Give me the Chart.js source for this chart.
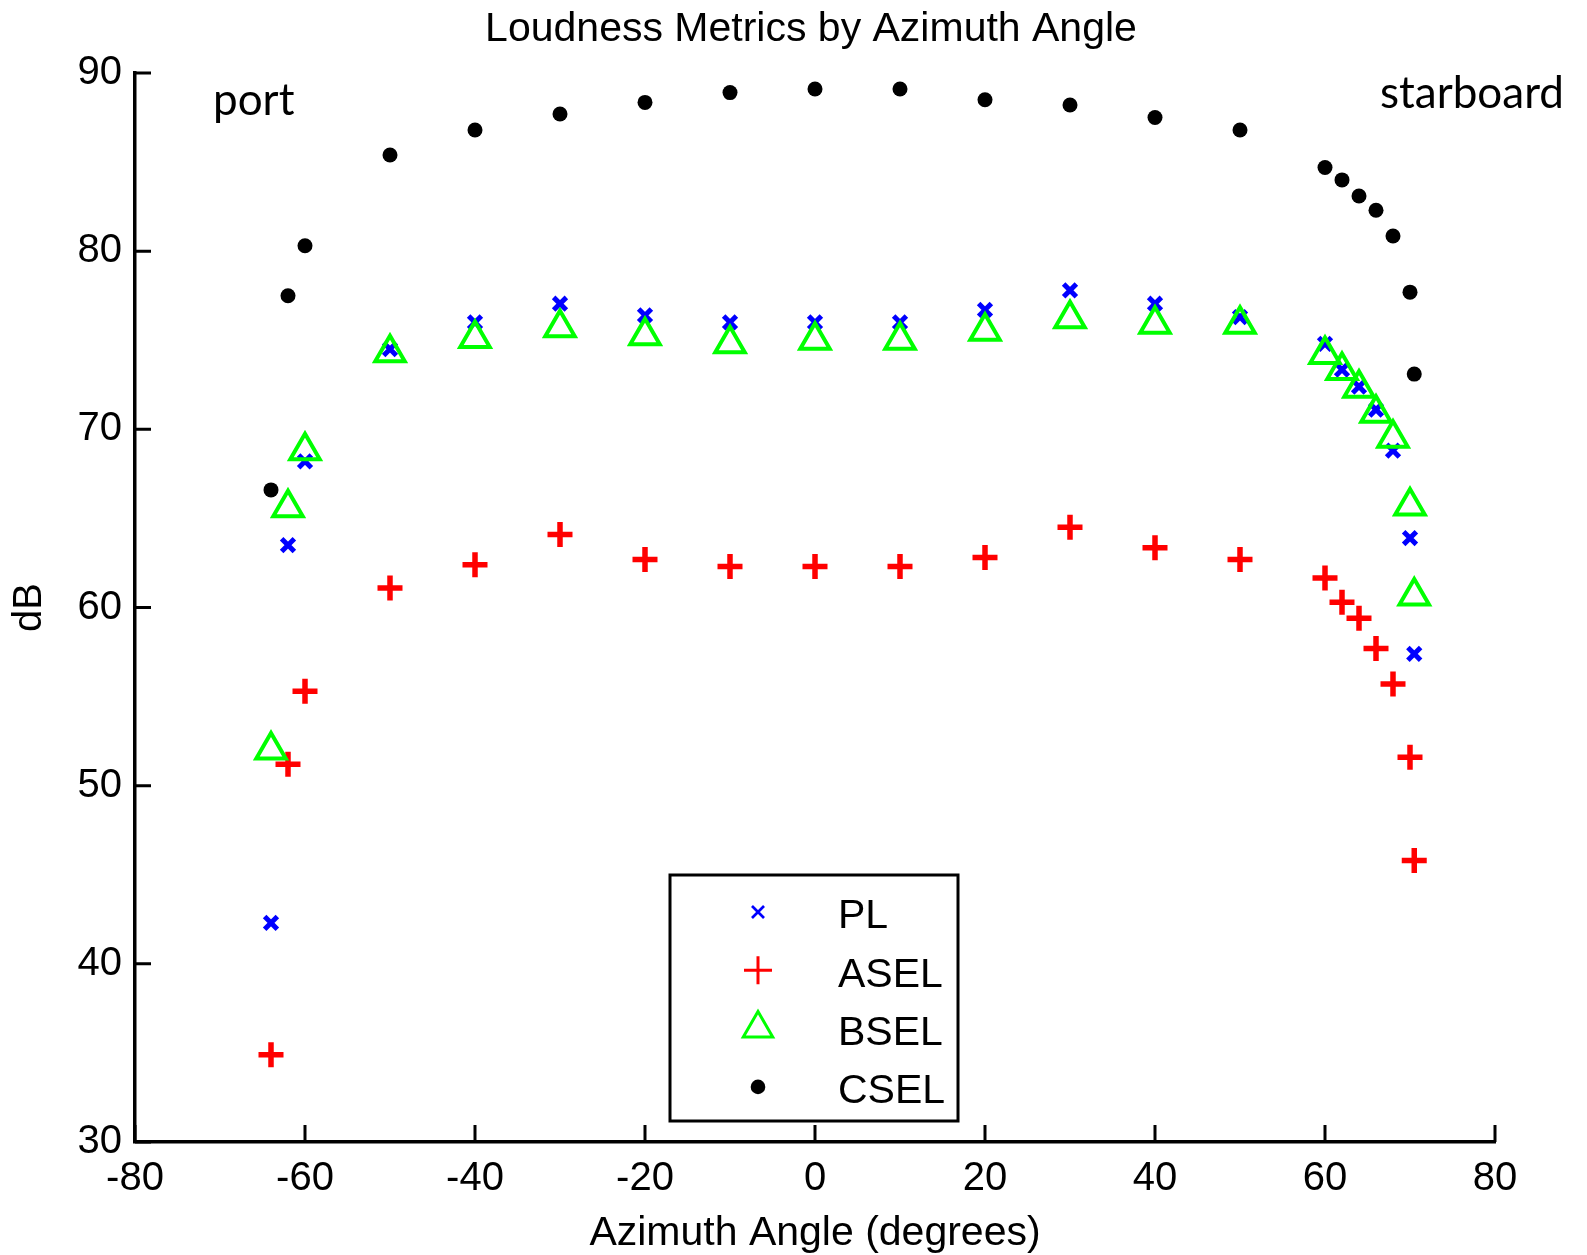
<!DOCTYPE html>
<html>
<head>
<meta charset="utf-8">
<title>Loudness Metrics by Azimuth Angle</title>
<script src="https://cdn.jsdelivr.net/npm/chart.js@4.4.0/dist/chart.umd.min.js"></script>
<style>
  html, body { margin: 0; padding: 0; background: #fff; }
</style>
</head>
<body>
<canvas id="myChart" width="1587" height="1255"></canvas>
<script>
// azimuth angles (degrees) shared by all four metrics
const angles = [-64, -62, -60, -50, -40, -30, -20, -10, 0, 10, 20, 30, 40, 50, 60, 62, 64, 66, 68, 70, 70.5];

const pl   = [42.3, 63.5, 68.2, 74.5, 76.0, 77.05, 76.4, 76.0, 76.0, 76.0, 76.7, 77.8, 77.05, 76.3, 74.8, 73.35, 72.4, 71.1, 68.8, 63.9, 57.4];
const asel = [34.9, 51.2, 55.3, 61.1, 62.4, 64.1, 62.7, 62.3, 62.3, 62.3, 62.8, 64.5, 63.35, 62.7, 61.65, 60.3, 59.4, 57.7, 55.7, 51.6, 45.8];
const bsel = [52.0, 65.6, 68.8, 74.3, 75.1, 75.7, 75.25, 74.8, 75.0, 75.0, 75.5, 76.2, 75.9, 75.9, 74.2, 73.3, 72.3, 70.9, 69.5, 65.7, 60.65];
const csel = [66.6, 77.5, 80.3, 85.4, 86.8, 87.7, 88.35, 88.9, 89.1, 89.1, 88.5, 88.2, 87.5, 86.8, 84.7, 84.0, 83.1, 82.3, 80.85, 77.7, 73.1];

const seriesLabels = ["PL", "ASEL", "BSEL", "CSEL"];
const xTicks = [-80, -60, -40, -20, 0, 20, 40, 60, 80];
const yTicks = [30, 40, 50, 60, 70, 80, 90];

const titleText = "Loudness Metrics by Azimuth Angle";
const xTitle = "Azimuth Angle (degrees)";
const yTitle = "dB";

const FONT = "'Liberation Sans', Arial, sans-serif";
Chart.defaults.font.family = FONT;
Chart.defaults.color = "#000";

function toPoints(values) {
  return angles.map((a, i) => ({ x: a, y: values[i] }));
}

// legend marker sizes (thinner than in the plot)
const legendRadius = [8.5, 14, 17, 7.3];
const legendWidth = [2.7, 3, 3, 0];

const innerTicks = {
  id: "innerTicks",
  afterDraw(chart) {
    const ctx = chart.ctx;
    const xs = chart.scales.x;
    const ys = chart.scales.y;
    const area = chart.chartArea;
    ctx.save();
    ctx.strokeStyle = "#000";
    ctx.lineWidth = 3;
    ctx.beginPath();
    xs.ticks.forEach((t) => {
      const px = xs.getPixelForValue(t.value);
      ctx.moveTo(px, area.bottom);
      ctx.lineTo(px, area.bottom - 17);
    });
    ys.ticks.forEach((t) => {
      const py = ys.getPixelForValue(t.value);
      ctx.moveTo(area.left, py);
      ctx.lineTo(area.left + 16, py);
    });
    ctx.stroke();
    ctx.restore();
  },
};

const annotations = {
  id: "annotations",
  afterDraw(chart) {
    const ctx = chart.ctx;
    ctx.save();
    ctx.fillStyle = "#000";

    // title
    ctx.font = "41px " + FONT;
    ctx.textAlign = "center";
    ctx.textBaseline = "middle";
    ctx.fillText(titleText, 811, 30);

    // port / starboard
    ctx.font = "44px Lato, 'Open Sans', sans-serif";
    ctx.textAlign = "left";
    ctx.textBaseline = "alphabetic";
    ctx.fillText("port", 213, 115);
    ctx.fillText("starboard", 1380, 108);

    // legend
    ctx.fillStyle = "#fff";
    ctx.fillRect(670, 875, 288, 246);
    ctx.lineWidth = 3;
    ctx.strokeStyle = "#000";
    ctx.strokeRect(670, 875, 288, 246);

    chart.data.datasets.forEach((ds, i) => {
      const y = 917 + i * 58.3;
      ctx.strokeStyle = ds.borderColor;
      ctx.fillStyle = ds.backgroundColor;
      ctx.lineWidth = legendWidth[i];
      Chart.helpers.drawPoint(
        ctx,
        { pointStyle: ds.pointStyle, radius: legendRadius[i], borderWidth: legendWidth[i], rotation: 0 },
        758,
        y - 5
      );
      ctx.fillStyle = "#000";
      ctx.font = "41px " + FONT;
      ctx.textAlign = "left";
      ctx.textBaseline = "middle";
      ctx.fillText(ds.label, 838, y);
    });
    ctx.restore();
  },
};

const ctx = document.getElementById("myChart");
new Chart(ctx, {
  type: "scatter",
  data: {
    datasets: [
      {
        label: seriesLabels[0],
        data: toPoints(pl),
        pointStyle: "crossRot",
        pointRadius: 9,
        pointHoverRadius: 9,
        borderWidth: 5,
        borderColor: "#0000ff",
        backgroundColor: "#0000ff",
        order: 3,
      },
      {
        label: seriesLabels[1],
        data: toPoints(asel),
        pointStyle: "cross",
        pointRadius: 12.5,
        pointHoverRadius: 12.5,
        borderWidth: 5.5,
        borderColor: "#ff0000",
        backgroundColor: "#ff0000",
        order: 2,
      },
      {
        label: seriesLabels[2],
        data: toPoints(bsel),
        pointStyle: "triangle",
        pointRadius: 17,
        pointHoverRadius: 17,
        borderWidth: 4,
        borderColor: "#00ff00",
        backgroundColor: "rgba(0,0,0,0)",
        order: 1,
      },
      {
        label: seriesLabels[3],
        data: toPoints(csel),
        pointStyle: "circle",
        pointRadius: 7.5,
        pointHoverRadius: 7.5,
        borderWidth: 0,
        borderColor: "#000000",
        backgroundColor: "#000000",
        order: 0,
      },
    ],
  },
  options: {
    responsive: false,
    animation: false,
    devicePixelRatio: 1,
    events: [],
    layout: { padding: { top: 73, right: 92, left: 0, bottom: 0 } },
    plugins: {
      legend: { display: false },
      tooltip: { enabled: false },
      title: { display: false },
    },
    scales: {
      x: {
        type: "linear",
        min: xTicks[0],
        max: xTicks[xTicks.length - 1],
        afterBuildTicks(scale) {
          scale.ticks = xTicks.map((v) => ({ value: v }));
        },
        afterFit(scale) {
          scale.height = 113;
        },
        grid: { display: false, drawTicks: false },
        border: { display: true, color: "#000", width: 3.5 },
        ticks: { font: { size: 40 }, padding: 13, color: "#000", maxRotation: 0 },
        title: {
          display: true,
          text: xTitle,
          font: { size: 41 },
          padding: { top: 0, bottom: -3 },
          color: "#000",
        },
      },
      y: {
        type: "linear",
        min: yTicks[0],
        max: yTicks[yTicks.length - 1],
        afterBuildTicks(scale) {
          scale.ticks = yTicks.map((v) => ({ value: v }));
        },
        afterFit(scale) {
          scale.width = 135;
        },
        grid: { display: false, drawTicks: false },
        border: { display: true, color: "#000", width: 3.5 },
        ticks: { font: { size: 40 }, padding: 13, color: "#000" },
        title: {
          display: true,
          text: yTitle,
          font: { size: 40 },
          padding: { top: 6, bottom: 0 },
          color: "#000",
        },
      },
    },
  },
  plugins: [innerTicks, annotations],
});
</script>
</body>
</html>
